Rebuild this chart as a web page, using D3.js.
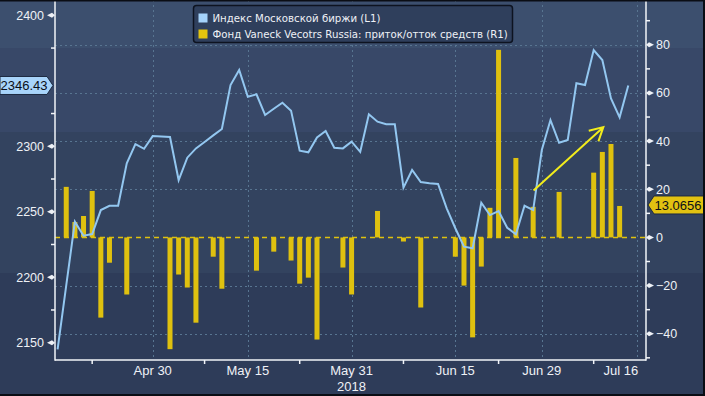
<!DOCTYPE html>
<html>
<head>
<meta charset="utf-8">
<script src="https://cdn.jsdelivr.net/npm/d3@7"></script>
<style>
  html, body { margin: 0; padding: 0; background: #2e3c59; }
  svg { display: block; font-family: "Liberation Sans", Arial, sans-serif; }
</style>
</head>
<body>
<div id="vis"></div>
<script>
const FRAME_WIDTH = 705;
const FRAME_HEIGHT = 396;
const MARGINS = { left: 55, right: 59, top: 0, bottom: 36 };

// trading days (Moscow + US calendars)
const dates = ["Apr 16", "Apr 17", "Apr 18", "Apr 19", "Apr 20", "Apr 23", "Apr 24", "Apr 25", "Apr 26", "Apr 27",
  "Apr 28", "Apr 30", "May 1", "May 2", "May 3", "May 4", "May 7", "May 8", "May 9", "May 10",
  "May 11", "May 14", "May 15", "May 16", "May 17", "May 18", "May 21", "May 22", "May 23", "May 24",
  "May 25", "May 28", "May 29", "May 30", "May 31", "Jun 1", "Jun 4", "Jun 5", "Jun 6", "Jun 7",
  "Jun 8", "Jun 9", "Jun 11", "Jun 12", "Jun 13", "Jun 14", "Jun 15", "Jun 18", "Jun 19", "Jun 20",
  "Jun 21", "Jun 22", "Jun 25", "Jun 26", "Jun 27", "Jun 28", "Jun 29", "Jul 2", "Jul 3", "Jul 4",
  "Jul 5", "Jul 6", "Jul 9", "Jul 10", "Jul 11", "Jul 12", "Jul 13", "Jul 16"];

// Индекс Московской биржи (left axis)
const moex = [2145.0, 2193.7, 2242.4, 2231.7, 2233.0, 2251.3, 2254.6, 2254.6, 2287.0, 2301.7,
  2298.1, 2307.8, 2307.4, 2307.1, 2274.2, 2291.3, 2298.4, 2303.3, 2308.3, 2313.2,
  2346.8, 2358.2, 2337.8, 2339.7, 2323.9, 2328.7, 2333.3, 2327.2, 2296.6, 2295.4,
  2306.8, 2311.7, 2298.9, 2298.4, 2303.5, 2295.8, 2324.4, 2318.8, 2316.8, 2316.8,
  2268.4, 2281.9, 2272.7, 2271.7, 2271.2, 2252.6, 2237.4, 2223.3, 2222.1, 2256.9,
  2247.5, 2250.6, 2237.8, 2232.8, 2254.6, 2251.3, 2297.1, 2320.0, 2302.7, 2304.8,
  2348.1, 2346.8, 2373.5, 2365.9, 2336.6, 2322.1, 2346.43, null];

// Фонд Vaneck: приток/отток средств (right axis), null = no flow
const flows = [null, 21.0, 6.4, 8.9, 19.3, -33.3, -10.5, null, -23.7, null,
  null, null, null, -46.4, -15.4, -20.8, -35.4, null, -8.0, -21.3,
  null, null, null, -13.8, null, -5.9, null, -9.6, -19.2, -16.7,
  -42.4, null, null, -12.5, -23.7, null, null, 11.0, null, null,
  -1.7, null, -29.1, null, null, null, -8.0, -20.0, -41.5, -12.1,
  12.3, 77.9, null, 33.0, null, 12.7, null, null, 18.9, null,
  null, null, 26.9, 35.5, 38.8, 13.0656, null, null];

const leftTicks = [2150, 2200, 2250, 2300, 2400];
const leftMinor = [2175, 2225, 2275, 2325, 2375];
const rightTicks = [-40, -20, 0, 20, 40, 60, 80];
const rightMinor = [-50, -30, -10, 10, 30, 50, 70, 90];
const xLabels = ["Apr 30", "May 15", "May 31", "Jun 15", "Jun 29", "Jul 16"];
const xMinor = ["Apr 20", "May 8", "May 23", "Jun 8", "Jun 22", "Jul 9"];
const trendFrom = { date: "Jun 28", value: 19.5 };
const trendTo = { date: "Jul 10", value: 45.8 };

const LINE_COLOR = "#93c7f0";
const BAR_COLOR = "#dfc10f";

const VIS_WIDTH = FRAME_WIDTH - MARGINS.left - MARGINS.right;
const VIS_HEIGHT = FRAME_HEIGHT - MARGINS.top - MARGINS.bottom;
const X0 = MARGINS.left, X1 = MARGINS.left + VIS_WIDTH, Y1 = MARGINS.top + VIS_HEIGHT;

const svg = d3.select("#vis")
  .append("svg")
  .attr("width", FRAME_WIDTH)
  .attr("height", FRAME_HEIGHT);

// background bands
const bands = [[0, 48, "#3c4f6e"], [48, 132, "#384868"], [132, 273, "#33435f"], [273, 396, "#2e3c59"]];
svg.selectAll(".band").data(bands).enter().append("rect")
  .attr("x", 0).attr("y", d => d[0]).attr("width", FRAME_WIDTH).attr("height", d => d[1] - d[0])
  .attr("fill", d => d[2]);

// Scales
const X = d3.scaleLinear().domain([-0.3, 68.05]).range([X0, X1]);
const xOf = (d) => X(dates.indexOf(d));
const YL = d3.scaleLinear().domain([2136.8, 2411.7]).range([Y1, MARGINS.top]);
const YR = d3.scaleLinear().domain([-50.9, 98.6]).range([Y1, MARGINS.top]);

// grid
const grid = svg.append("g").attr("stroke", "#587591").attr("stroke-width", 1).attr("stroke-dasharray", "2,3");
grid.selectAll("line.h").data(rightTicks.filter(d => d !== 0)).enter().append("line")
  .attr("x1", X0).attr("x2", X1).attr("y1", d => Math.round(YR(d)) + 0.5).attr("y2", d => Math.round(YR(d)) + 0.5);
grid.selectAll("line.v").data(xLabels).enter().append("line")
  .attr("x1", d => Math.round(xOf(d)) + 0.5).attr("x2", d => Math.round(xOf(d)) + 0.5)
  .attr("y1", MARGINS.top).attr("y2", Y1);

// zero line
svg.append("line")
  .attr("x1", X0).attr("x2", X1).attr("y1", Math.round(YR(0)) + 0.5).attr("y2", Math.round(YR(0)) + 0.5)
  .attr("stroke", BAR_COLOR).attr("stroke-width", 1.3).attr("stroke-dasharray", "5,4");

// bars
const BAR_W = 5;
svg.selectAll(".bar")
  .data(flows.map((v, i) => ({ i, v })).filter(d => d.v !== null))
  .enter().append("rect")
  .attr("x", d => X(d.i) - BAR_W / 2)
  .attr("y", d => YR(Math.max(0, d.v)))
  .attr("width", BAR_W)
  .attr("height", d => Math.abs(YR(d.v) - YR(0)))
  .attr("fill", BAR_COLOR);

// index line
const line = d3.line().defined(d => d !== null).x((d, i) => X(i)).y(d => YL(d));
svg.append("path")
  .datum(moex)
  .attr("d", line)
  .attr("fill", "none")
  .attr("stroke", LINE_COLOR)
  .attr("stroke-width", 2)
  .attr("stroke-linejoin", "miter");

// trend arrow
const ax1 = xOf(trendFrom.date) + 0.4, ay1 = YR(trendFrom.value);
const ax2 = xOf(trendTo.date) + 1, ay2 = YR(trendTo.value);
const ang = Math.atan2(ay2 - ay1, ax2 - ax1);
const head = 15, spread = 0.5;
svg.append("path")
  .attr("d", "M" + ax1 + "," + ay1 + "L" + ax2 + "," + ay2 +
    "M" + (ax2 - head * Math.cos(ang - spread)) + "," + (ay2 - head * Math.sin(ang - spread)) +
    "L" + ax2 + "," + ay2 +
    "L" + (ax2 - head * Math.cos(ang + spread)) + "," + (ay2 - head * Math.sin(ang + spread)))
  .attr("fill", "none").attr("stroke", "#f2ec1c").attr("stroke-width", 2);

// axes lines
const axes = svg.append("g").attr("stroke", "#f2f4f8").attr("stroke-width", 1.5);
axes.append("line").attr("x1", X0).attr("x2", X0).attr("y1", 0).attr("y2", Y1 + 0.75);
axes.append("line").attr("x1", X1).attr("x2", X1).attr("y1", 0).attr("y2", Y1 + 0.75);
axes.append("line").attr("x1", X0).attr("x2", X1).attr("y1", Y1).attr("y2", Y1);

// left axis ticks
const TXT = "#eef1f6";
axes.selectAll(".lminor").data(leftMinor).enter().append("line")
  .attr("x1", X0 - 4).attr("x2", X0).attr("y1", d => YL(d)).attr("y2", d => YL(d));
svg.selectAll(".lmark").data(leftTicks).enter().append("path")
  .attr("d", d => "M" + X0 + "," + YL(d) + "L" + (X0 - 3) + "," + (YL(d) - 2.5) + "L" + (X0 - 8) + "," + YL(d) +
    "L" + (X0 - 3) + "," + (YL(d) + 2.5) + "Z")
  .attr("fill", TXT);
svg.selectAll(".llab").data(leftTicks).enter().append("text")
  .attr("x", X0 - 11).attr("y", d => YL(d)).attr("dy", "0.36em")
  .attr("text-anchor", "end").attr("font-size", 12.5).attr("fill", TXT)
  .text(d => d);

// right axis ticks
axes.selectAll(".rminor").data(rightMinor).enter().append("line")
  .attr("x1", X1).attr("x2", X1 + 4).attr("y1", d => YR(d)).attr("y2", d => YR(d));
svg.selectAll(".rmark").data(rightTicks).enter().append("path")
  .attr("d", d => "M" + X1 + "," + YR(d) + "L" + (X1 + 3) + "," + (YR(d) - 2.5) + "L" + (X1 + 8) + "," + YR(d) +
    "L" + (X1 + 3) + "," + (YR(d) + 2.5) + "Z")
  .attr("fill", TXT);
svg.selectAll(".rlab").data(rightTicks).enter().append("text")
  .attr("x", X1 + 10).attr("y", d => YR(d)).attr("dy", "0.36em")
  .attr("font-size", 12.5).attr("fill", TXT)
  .text(d => d < 0 ? "\u2212" + Math.abs(d) : d);

// bottom axis
axes.selectAll(".xminor").data(xMinor).enter().append("line")
  .attr("x1", d => xOf(d)).attr("x2", d => xOf(d)).attr("y1", Y1).attr("y2", Y1 + 4);
svg.selectAll(".xlab").data(xLabels).enter().append("text")
  .attr("x", (d, i) => i === xLabels.length - 1 ? xOf(d) - 16 : xOf(d))
  .attr("y", Y1 + 15).attr("text-anchor", "middle")
  .attr("font-size", 13).attr("fill", TXT)
  .text(d => d);
svg.append("text")
  .attr("x", xOf("May 31")).attr("y", Y1 + 31).attr("text-anchor", "middle")
  .attr("font-size", 13).attr("fill", TXT).text("2018");

// last value tags
const lastL = moex[66], lastR = flows[65];
const ly = YL(lastL);
svg.append("path")
  .attr("d", "M0," + (ly - 9) + "H47L53," + ly + "L47," + (ly + 9) + "H0Z")
  .attr("fill", "#a8d4fa").attr("stroke", "#1c2940").attr("stroke-width", 1);
svg.append("text").attr("x", 24).attr("y", ly).attr("dy", "0.36em").attr("text-anchor", "middle")
  .attr("font-size", 13).attr("fill", "#0b0f18").text(lastL.toFixed(2));
const ry = YR(lastR) - 1;
svg.append("path")
  .attr("d", "M648," + ry + "L654," + (ry - 9) + "H705V" + (ry + 9) + "H654Z")
  .attr("fill", "#e2c211").attr("stroke", "#1c2940").attr("stroke-width", 1);
svg.append("text").attr("x", 678).attr("y", ry).attr("dy", "0.36em").attr("text-anchor", "middle")
  .attr("font-size", 13).attr("fill", "#0b0f18").text(lastR.toFixed(4));

// legend
const legend = svg.append("g");
legend.append("rect")
  .attr("x", 193.5).attr("y", 5.5).attr("width", 319).attr("height", 37).attr("rx", 3)
  .attr("fill", "#2f3f5c").attr("stroke", "#0d1320").attr("stroke-width", 1.5);
const legendItems = [
  { label: "Индекс Московской биржи (L1)", color: "#a5d3fb" },
  { label: "Фонд Vaneck Vecotrs Russia: приток/отток средств (R1)", color: "#e3c40e" }
];
legend.selectAll(".sw").data(legendItems).enter().append("rect")
  .attr("x", 198.5).attr("y", (d, i) => 13.5 + i * 16).attr("width", 9).attr("height", 9)
  .attr("fill", d => d.color);
legend.selectAll(".lt").data(legendItems).enter().append("text")
  .attr("x", 212.5).attr("y", (d, i) => 18 + i * 16).attr("dy", "0.36em")
  .attr("font-family", "DejaVu Sans, sans-serif").attr("font-size", 10.2).attr("fill", "#eef1f6")
  .text(d => d.label);

// frame edges
svg.append("rect").attr("x", 0).attr("y", 0).attr("width", FRAME_WIDTH).attr("height", 1.5).attr("fill", "#0a0d14");
svg.append("rect").attr("x", 0).attr("y", FRAME_HEIGHT - 2).attr("width", FRAME_WIDTH).attr("height", 2).attr("fill", "#0a0d14");
svg.append("rect").attr("x", FRAME_WIDTH - 2).attr("y", 0).attr("width", 2).attr("height", FRAME_HEIGHT).attr("fill", "#0a0d14");
</script>
</body>
</html>
